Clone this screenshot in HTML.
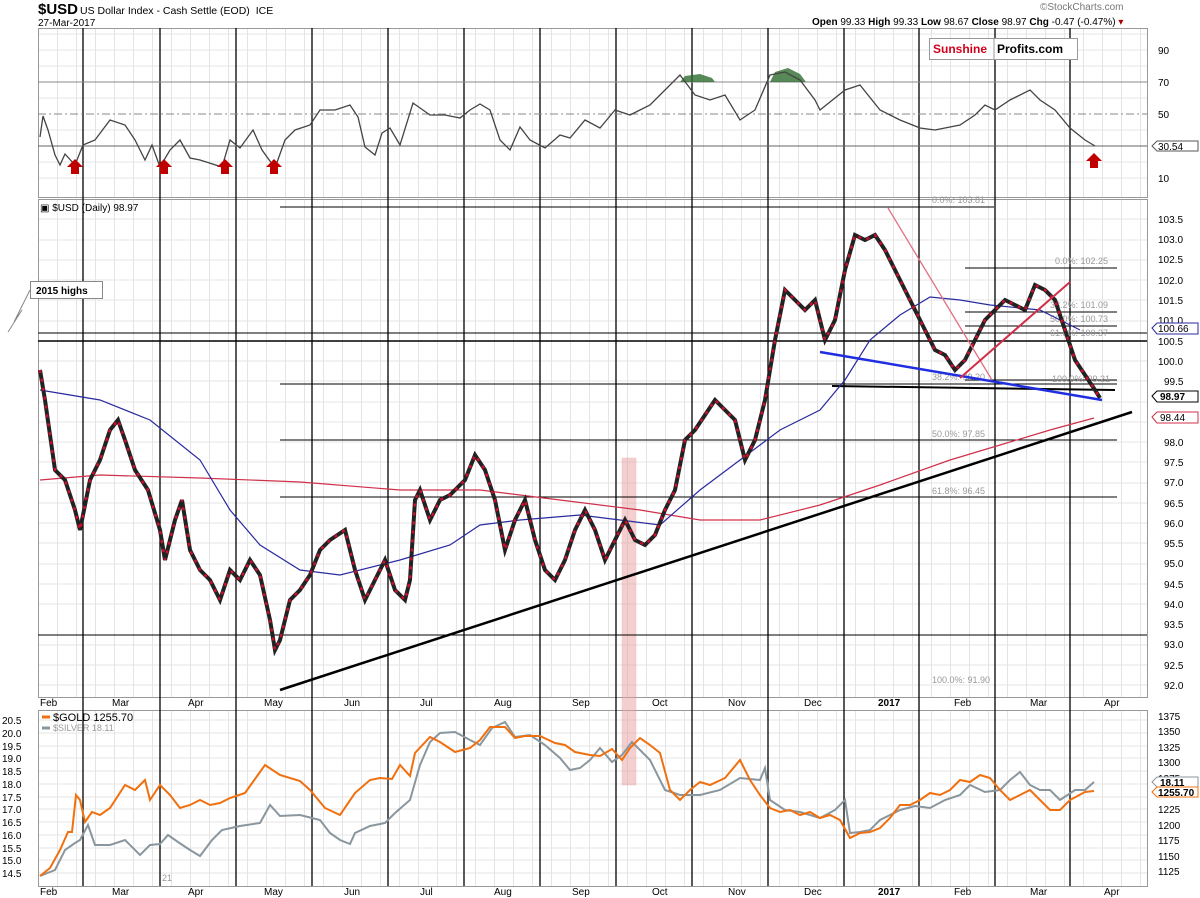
<!DOCTYPE html>
<html><head><meta charset="utf-8"><style>
body{margin:0;background:#fff;}
svg{display:block;font-family:"Liberation Sans",sans-serif;}
</style></head><body>
<svg width="1200" height="898" viewBox="0 0 1200 898" xmlns="http://www.w3.org/2000/svg">
<rect width="1200" height="898" fill="#fff"/>
<defs>
<pattern id="vg" x="38" y="0" width="19" height="898" patternUnits="userSpaceOnUse"><line x1="0.5" y1="0" x2="0.5" y2="898" stroke="#e4e4e4" stroke-width="1"/></pattern>
</defs>
<rect x="38" y="28" width="1109" height="169" fill="url(#vg)"/>
<rect x="38" y="199" width="1109" height="498" fill="url(#vg)"/>
<rect x="38" y="710" width="1109" height="176" fill="url(#vg)"/>
<g stroke="#e4e4e4">
<line x1="38" y1="34" x2="1147" y2="34"/><line x1="38" y1="50" x2="1147" y2="50"/><line x1="38" y1="66" x2="1147" y2="66"/><line x1="38" y1="98" x2="1147" y2="98"/><line x1="38" y1="130" x2="1147" y2="130"/><line x1="38" y1="162" x2="1147" y2="162"/><line x1="38" y1="178" x2="1147" y2="178"/>
<line x1="38" y1="219" x2="1147" y2="219"/><line x1="38" y1="240" x2="1147" y2="240"/><line x1="38" y1="260" x2="1147" y2="260"/><line x1="38" y1="280" x2="1147" y2="280"/><line x1="38" y1="300" x2="1147" y2="300"/><line x1="38" y1="321" x2="1147" y2="321"/><line x1="38" y1="361" x2="1147" y2="361"/><line x1="38" y1="381" x2="1147" y2="381"/><line x1="38" y1="402" x2="1147" y2="402"/><line x1="38" y1="422" x2="1147" y2="422"/><line x1="38" y1="442" x2="1147" y2="442"/><line x1="38" y1="462" x2="1147" y2="462"/><line x1="38" y1="483" x2="1147" y2="483"/><line x1="38" y1="503" x2="1147" y2="503"/><line x1="38" y1="523" x2="1147" y2="523"/><line x1="38" y1="543" x2="1147" y2="543"/><line x1="38" y1="564" x2="1147" y2="564"/><line x1="38" y1="584" x2="1147" y2="584"/><line x1="38" y1="604" x2="1147" y2="604"/><line x1="38" y1="645" x2="1147" y2="645"/><line x1="38" y1="665" x2="1147" y2="665"/><line x1="38" y1="685" x2="1147" y2="685"/>
<line x1="38" y1="720" x2="1147" y2="720"/><line x1="38" y1="733" x2="1147" y2="733"/><line x1="38" y1="746" x2="1147" y2="746"/><line x1="38" y1="758" x2="1147" y2="758"/><line x1="38" y1="771" x2="1147" y2="771"/><line x1="38" y1="784" x2="1147" y2="784"/><line x1="38" y1="797" x2="1147" y2="797"/><line x1="38" y1="809" x2="1147" y2="809"/><line x1="38" y1="822" x2="1147" y2="822"/><line x1="38" y1="835" x2="1147" y2="835"/><line x1="38" y1="848" x2="1147" y2="848"/><line x1="38" y1="860" x2="1147" y2="860"/><line x1="38" y1="873" x2="1147" y2="873"/>
</g>
<g fill="none" stroke="#999">
<rect x="38.5" y="28.5" width="1109" height="169"/>
<rect x="38.5" y="199.5" width="1109" height="498"/>
<rect x="38.5" y="710.5" width="1109" height="176"/>
</g>
<g stroke="#000" stroke-width="1.3">
<line x1="83" y1="28" x2="83" y2="886"/><line x1="160" y1="28" x2="160" y2="886"/><line x1="236" y1="28" x2="236" y2="886"/><line x1="312" y1="28" x2="312" y2="886"/><line x1="388" y1="28" x2="388" y2="886"/><line x1="464" y1="28" x2="464" y2="886"/><line x1="540" y1="28" x2="540" y2="886"/><line x1="616" y1="28" x2="616" y2="886"/><line x1="692" y1="28" x2="692" y2="886"/><line x1="768" y1="28" x2="768" y2="886"/><line x1="844" y1="28" x2="844" y2="886"/><line x1="919" y1="28" x2="919" y2="886"/><line x1="995" y1="28" x2="995" y2="886"/><line x1="1070" y1="28" x2="1070" y2="886"/>
</g>
<text x="38" y="14" font-size="15" font-weight="bold">$USD</text>
<text x="80" y="14" font-size="10.5">US Dollar Index - Cash Settle (EOD) <tspan dx="3">ICE</tspan></text>
<text x="38" y="26" font-size="10">27-Mar-2017</text>
<text x="1040" y="10" font-size="10" fill="#777">©StockCharts.com</text>
<text x="812" y="25" font-size="10"><tspan font-weight="bold">Open</tspan> 99.33 <tspan font-weight="bold">High</tspan> 99.33 <tspan font-weight="bold">Low</tspan> 98.67 <tspan font-weight="bold">Close</tspan> 98.97 <tspan font-weight="bold">Chg</tspan> -0.47 (-0.47%) <tspan fill="#a00">▾</tspan></text>
<rect x="929.5" y="38.5" width="148" height="21" fill="#fff" stroke="#999"/>
<line x1="994" y1="39" x2="994" y2="59" stroke="#999"/>
<text x="933" y="53" font-size="12" font-weight="bold" fill="#d0021b">Sunshine</text>
<text x="997" y="53" font-size="12" font-weight="bold">Profits.com</text>
<line x1="38" y1="82" x2="1147" y2="82" stroke="#888"/>
<line x1="38" y1="146" x2="1147" y2="146" stroke="#666"/>
<line x1="38" y1="114" x2="1147" y2="114" stroke="#888" stroke-dasharray="8,3,2,3"/>
<path d="M680,82 L685,76 L700,74 L712,78 L715,82Z M770,82 L775,72 L788,68 L800,74 L806,82Z" fill="#2e6b2e" opacity="0.8"/>
<polyline fill="none" stroke="#444" stroke-width="1.3" points="40,137 43,116 48,130 55,155 60,165 65,154 75,165 83,145 95,140 110,120 125,125 135,140 145,160 152,145 160,167 170,150 180,140 190,158 200,160 222,167 230,140 240,148 253,130 262,150 275,168 285,140 295,130 310,125 320,110 335,110 350,105 358,117 365,147 375,155 382,133 390,128 400,145 413,103 430,115 445,115 460,118 470,110 480,104 490,110 500,140 510,150 520,127 530,140 545,148 560,135 570,138 585,120 600,128 615,110 630,115 650,105 665,90 680,75 695,95 710,100 725,95 740,120 755,110 770,75 785,72 800,80 815,100 820,110 845,90 860,85 880,110 900,120 920,128 935,130 960,125 975,115 985,105 995,110 1010,100 1030,90 1040,100 1055,110 1070,128 1085,140 1095,146"/>
<g fill="#c00000">
<path d="M71,174 h8 v-7 h4 l-8,-8 l-8,8 h4z"/>
<path d="M160,174 h8 v-7 h4 l-8,-8 l-8,8 h4z"/>
<path d="M221,174 h8 v-7 h4 l-8,-8 l-8,8 h4z"/>
<path d="M270,174 h8 v-7 h4 l-8,-8 l-8,8 h4z"/>
<path d="M1090,168 h8 v-7 h4 l-8,-8 l-8,8 h4z"/>
</g>
<g font-size="10" fill="#000">
<text x="1158" y="54">90</text><text x="1158" y="86">70</text><text x="1158" y="118">50</text><text x="1158" y="182">10</text>
</g>
<path d="M1152,146 l5,-5 h41 v10 h-41z" fill="#fff" stroke="#555"/>
<text x="1158" y="150" font-size="10">30.54</text>
<text x="40" y="211" font-size="10">▣ $USD (Daily) 98.97</text>
<rect x="622" y="458" width="14" height="327" fill="#e8a0a0" opacity="0.5" stroke="#d88" stroke-width="0.5"/>
<g stroke="#000" stroke-width="1">
<line x1="280" y1="207" x2="994" y2="207"/>
<line x1="38" y1="635" x2="1147" y2="635"/>
<line x1="280" y1="384" x2="1117" y2="384"/>
<line x1="280" y1="440" x2="1117" y2="440"/>
<line x1="280" y1="497" x2="1117" y2="497"/>
<line x1="38" y1="333" x2="1147" y2="333"/>
<line x1="38" y1="341" x2="1147" y2="341" stroke-width="1.5"/>
<line x1="965" y1="268" x2="1117" y2="268"/>
<line x1="965" y1="312" x2="1117" y2="312"/>
<line x1="965" y1="326" x2="1117" y2="326"/>
<line x1="832" y1="386" x2="1115" y2="390" stroke-width="2"/>
<line x1="965" y1="380" x2="1117" y2="380"/>
</g>
<g font-size="9" fill="#999">
<text x="932" y="203">0.0%: 103.81</text>
<text x="1055" y="264">0.0%: 102.25</text>
<text x="1050" y="308">38.2%: 101.09</text>
<text x="1050" y="322">50.0%: 100.73</text>
<text x="1050" y="336">61.8%: 100.37</text>
<text x="932" y="380">38.2%: 99.20</text>
<text x="1052" y="382">100.0%: 99.21</text>
<text x="932" y="437">50.0%: 97.85</text>
<text x="932" y="494">61.8%: 96.45</text>
<text x="932" y="683">100.0%: 91.90</text>
</g>
<polyline fill="none" stroke="#d0304a" stroke-width="1.2" points="40,480 100,475 200,478 300,482 400,490 480,490 560,500 640,510 700,520 760,520 820,505 880,485 950,460 1000,445 1050,430 1094,418"/>
<polyline fill="none" stroke="#2a2aa0" stroke-width="1.2" points="40,390 100,400 150,420 200,460 230,510 260,545 300,570 340,575 400,560 450,545 480,525 520,520 580,515 620,520 660,525 700,490 740,460 780,430 820,410 845,380 870,340 900,315 930,297 960,300 990,305 1040,310 1080,330"/>
<polyline fill="none" stroke="#222" stroke-width="4" points="40,370 45,400 55,470 65,480 75,510 80,530 90,480 100,460 110,430 118,420 125,440 135,470 148,490 160,530 165,560 175,520 182,500 190,550 200,570 210,580 220,600 230,570 240,580 250,560 260,575 270,620 275,650 280,640 290,600 300,590 310,575 320,550 330,540 345,530 355,570 365,600 375,580 385,560 395,590 405,600 410,580 415,500 420,490 430,520 440,500 450,495 465,480 475,455 485,470 495,500 505,550 515,520 525,500 535,540 545,570 555,580 565,560 575,530 585,510 595,530 605,560 615,540 625,520 635,540 645,545 655,535 665,510 675,490 685,440 695,430 705,415 715,400 725,410 735,420 745,460 755,440 765,400 775,340 785,290 795,300 805,310 815,300 825,340 835,320 845,270 855,235 865,240 875,235 885,250 895,270 905,290 915,310 925,330 935,350 945,355 955,370 965,360 975,340 985,320 995,310 1005,300 1015,305 1025,310 1035,285 1045,290 1055,300 1065,330 1075,360 1085,375 1095,390 1100,398"/>
<polyline fill="none" stroke="#c8102e" stroke-width="2.5" stroke-dasharray="3,6" points="40,370 45,400 55,470 65,480 75,510 80,530 90,480 100,460 110,430 118,420 125,440 135,470 148,490 160,530 165,560 175,520 182,500 190,550 200,570 210,580 220,600 230,570 240,580 250,560 260,575 270,620 275,650 280,640 290,600 300,590 310,575 320,550 330,540 345,530 355,570 365,600 375,580 385,560 395,590 405,600 410,580 415,500 420,490 430,520 440,500 450,495 465,480 475,455 485,470 495,500 505,550 515,520 525,500 535,540 545,570 555,580 565,560 575,530 585,510 595,530 605,560 615,540 625,520 635,540 645,545 655,535 665,510 675,490 685,440 695,430 705,415 715,400 725,410 735,420 745,460 755,440 765,400 775,340 785,290 795,300 805,310 815,300 825,340 835,320 845,270 855,235 865,240 875,235 885,250 895,270 905,290 915,310 925,330 935,350 945,355 955,370 965,360 975,340 985,320 995,310 1005,300 1015,305 1025,310 1035,285 1045,290 1055,300 1065,330 1075,360 1085,375 1095,390 1100,398"/>
<line x1="280" y1="690" x2="1132" y2="412" stroke="#000" stroke-width="2.5"/>
<line x1="820" y1="352" x2="1102" y2="400" stroke="#1f2ee0" stroke-width="2.5"/>
<line x1="888" y1="208" x2="992" y2="380" stroke="#e07080" stroke-width="1.3"/>
<line x1="960" y1="378" x2="1070" y2="282" stroke="#d0304a" stroke-width="2"/>
<rect x="30.5" y="281.5" width="72" height="17" fill="#fff" stroke="#888"/>
<text x="36" y="294" font-size="10" font-weight="bold">2015 highs</text>
<polyline points="30,290 14,322 22,310 8,332" fill="none" stroke="#888"/>
<g font-size="10">
<text x="1158" y="223">103.5</text><text x="1158" y="243">103.0</text><text x="1158" y="263">102.5</text><text x="1158" y="284">102.0</text><text x="1158" y="304">101.5</text><text x="1158" y="324">101.0</text><text x="1158" y="345">100.5</text><text x="1158" y="365">100.0</text><text x="1164" y="385">99.5</text><text x="1164" y="446">98.0</text><text x="1164" y="466">97.5</text><text x="1164" y="486">97.0</text><text x="1164" y="507">96.5</text><text x="1164" y="527">96.0</text><text x="1164" y="547">95.5</text><text x="1164" y="567">95.0</text><text x="1164" y="588">94.5</text><text x="1164" y="608">94.0</text><text x="1164" y="628">93.5</text><text x="1164" y="648">93.0</text><text x="1164" y="669">92.5</text><text x="1164" y="689">92.0</text>
</g>
<path d="M1152,328 l5,-5 h41 v11 h-41z" fill="#fff" stroke="#2a2aa0"/><text x="1158" y="332" font-size="10">100.66</text>
<path d="M1152,396 l5,-5 h41 v11 h-41z" fill="#fff" stroke="#000"/><text x="1160" y="400" font-size="10" font-weight="bold">98.97</text>
<path d="M1152,417 l5,-5 h41 v11 h-41z" fill="#fff" stroke="#d0304a"/><text x="1160" y="421" font-size="10">98.44</text>
<g font-size="10">
<text x="40" y="706">Feb</text><text x="112" y="706">Mar</text><text x="188" y="706">Apr</text><text x="264" y="706">May</text><text x="344" y="706">Jun</text><text x="420" y="706">Jul</text><text x="494" y="706">Aug</text><text x="572" y="706">Sep</text><text x="652" y="706">Oct</text><text x="728" y="706">Nov</text><text x="804" y="706">Dec</text><text x="878" y="706" font-weight="bold">2017</text><text x="954" y="706">Feb</text><text x="1030" y="706">Mar</text><text x="1104" y="706">Apr</text>
<text x="40" y="895">Feb</text><text x="112" y="895">Mar</text><text x="188" y="895">Apr</text><text x="264" y="895">May</text><text x="344" y="895">Jun</text><text x="420" y="895">Jul</text><text x="494" y="895">Aug</text><text x="572" y="895">Sep</text><text x="652" y="895">Oct</text><text x="728" y="895">Nov</text><text x="804" y="895">Dec</text><text x="878" y="895" font-weight="bold">2017</text><text x="954" y="895">Feb</text><text x="1030" y="895">Mar</text><text x="1104" y="895">Apr</text>
</g>
<polyline fill="none" stroke="#8a969e" stroke-width="2" points="40,876 55,870 65,850 75,843 80,840 88,825 95,845 110,845 125,840 140,855 150,845 160,844 168,835 178,842 190,850 200,856 212,840 222,830 240,826 260,823 270,805 280,816 300,815 320,820 330,833 340,840 350,844 355,833 370,826 385,823 395,813 410,800 420,765 430,742 440,733 455,732 470,740 480,745 492,728 505,722 515,737 530,735 545,745 560,758 570,770 580,768 590,760 600,748 612,762 622,755 632,742 642,752 650,760 665,790 680,795 700,795 720,790 740,778 760,780 765,768 770,800 785,810 800,812 820,818 835,810 845,800 850,833 860,832 870,830 880,820 900,810 915,806 930,808 945,800 960,795 970,785 985,792 1000,790 1010,780 1020,772 1030,785 1040,790 1050,790 1060,800 1075,790 1085,790 1094,782"/>
<polyline fill="none" stroke="#f07010" stroke-width="2" points="40,876 50,868 60,850 68,832 72,832 76,795 80,800 85,822 92,812 100,815 110,808 125,785 135,790 145,780 150,800 160,785 170,795 180,808 190,805 200,800 210,805 220,803 230,798 245,793 265,765 280,775 300,781 310,790 325,808 340,815 355,793 370,780 380,778 392,779 400,765 410,776 415,753 430,737 440,742 455,752 470,748 480,740 490,727 505,727 515,738 525,736 540,736 555,743 565,745 575,752 590,755 600,756 612,749 622,760 630,748 640,738 650,745 660,753 670,790 680,800 690,790 700,782 710,785 725,778 740,760 750,780 760,795 770,808 780,812 790,810 800,815 810,812 820,818 830,815 840,820 850,838 860,833 870,832 880,828 890,818 900,805 910,805 920,800 930,793 940,795 950,790 960,780 970,782 980,775 990,778 1000,790 1010,800 1020,795 1030,790 1040,800 1050,810 1060,810 1070,800 1085,792 1094,791"/>
<line x1="42" y1="717" x2="50" y2="717" stroke="#f07010" stroke-width="3"/>
<text x="53" y="721" font-size="11">$GOLD 1255.70</text>
<line x1="42" y1="728" x2="50" y2="728" stroke="#8a969e" stroke-width="3"/>
<text x="53" y="731" font-size="9" fill="#999">$SILVER 18.11</text>
<text x="162" y="881" font-size="9" fill="#999">21</text>
<g font-size="10">
<text x="2" y="724">20.5</text><text x="2" y="737">20.0</text><text x="2" y="750">19.5</text><text x="2" y="762">19.0</text><text x="2" y="775">18.5</text><text x="2" y="788">18.0</text><text x="2" y="801">17.5</text><text x="2" y="813">17.0</text><text x="2" y="826">16.5</text><text x="2" y="839">16.0</text><text x="2" y="852">15.5</text><text x="2" y="864">15.0</text><text x="2" y="877">14.5</text>
<text x="1158" y="720">1375</text><text x="1158" y="735">1350</text><text x="1158" y="751">1325</text><text x="1158" y="766">1300</text><text x="1158" y="782">1275</text><text x="1158" y="813">1225</text><text x="1158" y="829">1200</text><text x="1158" y="844">1175</text><text x="1158" y="860">1150</text><text x="1158" y="875">1125</text>
</g>
<path d="M1152,782 l5,-5 h41 v10 h-41z" fill="#fff" stroke="#8a969e"/><text x="1160" y="786" font-size="10" font-weight="bold">18.11</text>
<path d="M1152,792 l5,-5 h41 v10 h-41z" fill="#fff" stroke="#f07010"/><text x="1158" y="796" font-size="10" font-weight="bold">1255.70</text>
</svg>
</body></html>
